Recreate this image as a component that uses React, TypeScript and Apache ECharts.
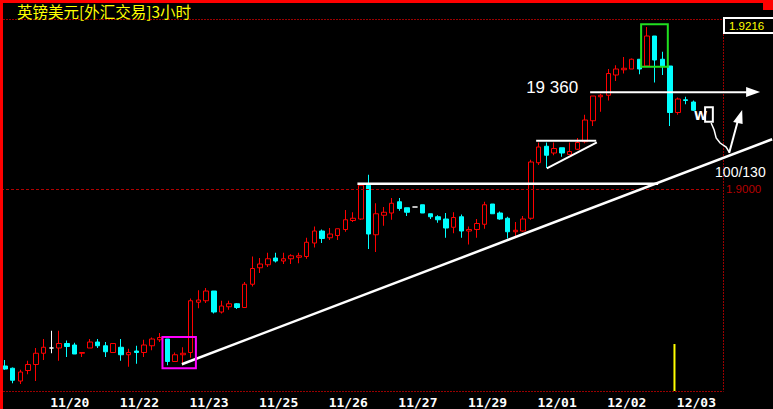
import React, { useEffect, useRef } from "react";
import * as echarts from "echarts";

const titleText = "英镑美元[外汇交易]3小时";
const slotCount = 93;
const tickIndex = [8, 17, 26, 35, 44, 53, 62, 71, 80, 89];
const tickLabels = ["11/20", "11/22", "11/23", "11/25", "11/26", "11/27", "11/29", "12/01", "12/02", "12/03"];

const opens = [
  1.8764, 1.8761, 1.8744, 1.8758, 1.8766, 1.8781, 1.8788, 1.8788, 1.8794, 1.8792,
  1.8781, 1.8788, 1.8796, 1.8791, 1.8782, 1.8789, 1.8779, 1.8784, 1.8782, 1.8791,
  1.8799, 1.88, 1.877, 1.8779, 1.8782, 1.8849, 1.8851, 1.8864, 1.8836, 1.8843,
  1.8847, 1.8842, 1.8873, 1.8895, 1.8899, 1.8908, 1.8904, 1.8907, 1.8909, 1.891,
  1.8928, 1.8944, 1.8935, 1.8938, 1.8946, 1.8958, 1.896, 1.9005, 1.8939, 1.8965,
  1.8968, 1.8983, 1.8975, 1.8976, 1.8979, 1.8967, 1.8963, 1.896, 1.8949, 1.8963,
  1.8944, 1.8946, 1.8953, 1.898, 1.8968, 1.8961, 1.8943, 1.8944, 1.8961, 1.9035,
  1.9057, 1.9048, 1.9055, 1.9046, 1.9053, 1.9063, 1.9091, 1.9123, 1.9125, 1.9152,
  1.9159, 1.916, 1.9173, 1.9164, 1.9204, 1.9173, 1.9164, 1.9102, 1.9119, 1.9116,
];
const highs = [
  1.8772, 1.8762, 1.8759, 1.8771, 1.8788, 1.88, 1.8811, 1.8811, 1.8798, 1.8795,
  1.8782, 1.88, 1.88, 1.8796, 1.8794, 1.88, 1.8787, 1.8791, 1.8799, 1.8802,
  1.8808, 1.88, 1.8782, 1.8789, 1.8854, 1.8865, 1.8868, 1.8864, 1.8851, 1.8851,
  1.8848, 1.8876, 1.891, 1.8908, 1.8915, 1.8915, 1.8915, 1.8913, 1.8915, 1.8935,
  1.895, 1.8946, 1.8948, 1.8947, 1.8972, 1.8969, 1.9005, 1.9019, 1.8981, 1.8976,
  1.8988, 1.8988, 1.8975, 1.8976, 1.8979, 1.8967, 1.8965, 1.8968, 1.8969, 1.8966,
  1.895, 1.896, 1.8983, 1.898, 1.897, 1.8963, 1.8956, 1.8964, 1.9039, 1.9062,
  1.9062, 1.9062, 1.9055, 1.9062, 1.9068, 1.9099, 1.9124, 1.9127, 1.916, 1.9165,
  1.9176, 1.9174, 1.9173, 1.9216, 1.9204, 1.9183, 1.9164, 1.9122, 1.9123, 1.9118,
];
const lows = [
  1.8759, 1.8741, 1.874, 1.8753, 1.8744, 1.8772, 1.8781, 1.8771, 1.8776, 1.878,
  1.8776, 1.8788, 1.8788, 1.8776, 1.8782, 1.8771, 1.8763, 1.8767, 1.8776, 1.8785,
  1.8796, 1.8765, 1.877, 1.8765, 1.8775, 1.8841, 1.8848, 1.8834, 1.8834, 1.8839,
  1.884, 1.8842, 1.887, 1.8888, 1.8896, 1.8902, 1.89, 1.89, 1.8901, 1.8907,
  1.8922, 1.8928, 1.8932, 1.8932, 1.8943, 1.8956, 1.8959, 1.892, 1.8916, 1.8951,
  1.8959, 1.8971, 1.8964, 1.8976, 1.8968, 1.896, 1.8955, 1.8935, 1.8941, 1.8935,
  1.8926, 1.8935, 1.8947, 1.8967, 1.8959, 1.8934, 1.8937, 1.8943, 1.8959, 1.9032,
  1.9028, 1.9045, 1.9043, 1.9046, 1.9052, 1.9061, 1.9084, 1.9103, 1.9118, 1.9144,
  1.9154, 1.916, 1.9153, 1.9164, 1.9142, 1.9152, 1.9084, 1.9099, 1.9113, 1.9104,
];
const closes = [
  1.876, 1.8745, 1.8756, 1.8766, 1.8781, 1.8789, 1.8788, 1.8794, 1.879, 1.878,
  1.8782, 1.8796, 1.8791, 1.8783, 1.8794, 1.8779, 1.8782, 1.8782, 1.8792, 1.88,
  1.8802, 1.877, 1.8779, 1.8781, 1.8851, 1.8852, 1.8864, 1.8836, 1.8844, 1.8847,
  1.8842, 1.8873, 1.8894, 1.89, 1.8907, 1.8904, 1.8907, 1.8911, 1.8911, 1.8929,
  1.8944, 1.8934, 1.894, 1.8947, 1.8959, 1.8961, 1.9005, 1.894, 1.8967, 1.8969,
  1.8981, 1.8974, 1.8969, 1.8976, 1.8968, 1.8963, 1.8959, 1.8948, 1.8962, 1.8944,
  1.8946, 1.8954, 1.8979, 1.8967, 1.896, 1.8943, 1.8945, 1.896, 1.9036, 1.9056,
  1.9045, 1.9054, 1.9048, 1.905, 1.9062, 1.9092, 1.9124, 1.9125, 1.9154, 1.916,
  1.9161, 1.9173, 1.916, 1.9204, 1.9172, 1.9164, 1.9102, 1.912, 1.9118, 1.9105,
];

const yMin = 1.873067;
const yMax = 1.922667;
const refPrice = 1.9;
const lastHighPrice = 1.9216;

// hand-drawn annotations in data space: [candle index, price]
const trendLine = [[22.88, 1.87663], [99.17, 1.90663]];
const resistanceLine = [[45.57, 1.90071], [84.44, 1.90071]];
const flagTop = [[68.67, 1.90643], [76.43, 1.90643]];
const flagBottom = [[70.05, 1.90276], [76.52, 1.90623]];
const arrowLine = [[75.65, 1.91289], [95.94, 1.91289]];
const arrowHead = [[95.81, 1.9136], [97.62, 1.91293], [95.81, 1.91227]];
const magentaBox = [[20.37, 1.88027], [24.69, 1.87609]];
const greenBox = [[82.24, 1.92196], [85.69, 1.91631]];
const noteTarget = { text: "19 360", at: [67.38, 1.91347] };
const noteRatio = { text: "100/130", at: [91.8, 1.90227] };
const scribbleW = { text: "W", at: [89.93, 1.90967] };
const scribbleBox = [[90.51, 1.91089], [91.51, 1.90897]];
const scribblePath = [
  [91.29, 1.9088], [91.68, 1.90787], [91.94, 1.9068], [92.45, 1.90613], [93.23, 1.9056], [93.62, 1.90493],
];
const upArrowShaft = [[93.62, 1.9048], [94.91, 1.90973]];
const upArrowHead = [[95.3, 1.91053], [94.13, 1.90893], [95.36, 1.90867]];
const cursorLine = [[86.55, 1.87933], [86.55, 1.873067]];

export default function App() {
  const ref = useRef<HTMLDivElement>(null);
  useEffect(() => {
    document.body.style.margin = "0";
    document.body.style.background = "#000";
    const chart = echarts.init(ref.current as HTMLDivElement, null, { renderer: "svg" });
    const categories = Array.from({ length: slotCount }, (_, i) => "k" + i);
    const data = opens.map((o, i) => [o, closes[i], lows[i], highs[i]]);
    const labelOf = (idx: number) => {
      const k = tickIndex.indexOf(idx);
      return k >= 0 ? tickLabels[k] : "";
    };
    chart.setOption({
      animation: false,
      backgroundColor: "#000000",
      grid: { left: 1, right: 52.5, top: 19, bottom: 18, containLabel: false, outerBoundsMode: "none" },
      xAxis: {
        type: "category",
        data: categories,
        boundaryGap: true,
        axisLine: { show: false },
        axisTick: { show: false },
        splitLine: { show: false },
        axisLabel: {
          interval: (idx: number) => tickIndex.indexOf(idx) >= 0,
          formatter: (_v: string, idx: number) => labelOf(idx),
          color: "#ffffff",
          fontFamily: "DejaVu Sans Mono",
          fontWeight: "bold",
          fontSize: 13,
          margin: 5,
          padding: [0, 0, 0, 6],
          hideOverlap: false,
        },
      },
      yAxis: {
        type: "value",
        position: "right",
        min: yMin,
        max: yMax,
        scale: true,
        axisLine: { show: false },
        axisTick: { show: false },
        axisLabel: { show: false },
        splitLine: { show: false },
      },
      series: [
        {
          type: "candlestick",
          data,
          barWidth: 5,
          itemStyle: {
            color: "#000000",
            color0: "#00ffff",
            borderColor: "#ff0000",
            borderColor0: "#00ffff",
            borderColorDoji: "#ffffff",
            borderWidth: 1,
          },
          markLine: {
            silent: true,
            symbol: "none",
            label: { show: false },
            lineStyle: { color: "#b00000", type: [3, 2], width: 1 },
            data: [{ yAxis: refPrice }],
          },
        },
      ],
    });

    const a = chart.convertToPixel({ gridIndex: 0 }, [0, 1.9]) as number[];
    const b = chart.convertToPixel({ gridIndex: 0 }, [10, 1.92]) as number[];
    const X = (i: number) => a[0] + ((b[0] - a[0]) * i) / 10;
    const Y = (v: number) => a[1] + ((b[1] - a[1]) * (v - 1.9)) / 0.02;
    const P = (p: number[]) => [X(p[0]), Y(p[1])];

    const seg = (pts: number[][], stroke: string, lw: number) => {
      const [p1, p2] = [P(pts[0]), P(pts[1])];
      return {
        type: "line",
        z: 100,
        shape: { x1: p1[0], y1: p1[1], x2: p2[0], y2: p2[1] },
        style: { stroke, lineWidth: lw },
      };
    };
    const box = (pts: number[][], stroke: string, lw: number) => {
      const [p1, p2] = [P(pts[0]), P(pts[1])];
      return {
        type: "rect",
        z: 100,
        shape: { x: p1[0], y: p1[1], width: p2[0] - p1[0], height: p2[1] - p1[1] },
        style: { fill: "none", stroke, lineWidth: lw },
      };
    };
    const txt = (t: { text: string; at: number[] }, font: string, fill: string, align = "left") => {
      const p = P(t.at);
      return {
        type: "text",
        z: 100,
        x: p[0],
        y: p[1],
        style: {
          text: t.text,
          fill,
          font,
          textAlign: align,
          textVerticalAlign: "middle",
        },
      };
    };

    const hiY = Y(lastHighPrice);
    const refY = Y(refPrice);
    const frame = "#9a0000";

    const elements: any[] = [
      // frame chrome
      { type: "line", z: 90, shape: { x1: 3, y1: 19.5, x2: 723.5, y2: 19.5 }, style: { stroke: frame, lineWidth: 1, lineDash: [2, 1] } },
      { type: "line", z: 90, shape: { x1: 723.5, y1: 19, x2: 723.5, y2: 391.5 }, style: { stroke: frame, lineWidth: 1, lineDash: [2, 1] } },
      { type: "line", z: 90, shape: { x1: 3, y1: 391.5, x2: 723.5, y2: 391.5 }, style: { stroke: frame, lineWidth: 1, lineDash: [2, 1] } },
      { type: "rect", z: 110, shape: { x: 0, y: 0, width: 3, height: 409 }, style: { fill: "#ff0000" } },
      { type: "rect", z: 110, shape: { x: 0, y: 0, width: 773, height: 3 }, style: { fill: "#ff0000" } },
      { type: "rect", z: 110, shape: { x: 763, y: 0, width: 10, height: 10 }, style: { fill: "#ff0000" } },
      {
        type: "text",
        z: 110,
        x: 17,
        y: 10.5,
        style: { text: titleText, fill: "#ffff00", font: '15.5px "Noto Sans CJK SC"', textAlign: "left", textVerticalAlign: "middle" },
      },
      // price labels on the right
      { type: "rect", z: 100, shape: { x: 724, y: hiY - 9, width: 55, height: 15 }, style: { fill: "#000", stroke: "#ffffff", lineWidth: 2 } },
      {
        type: "text",
        z: 101,
        x: 729,
        y: hiY - 1.5,
        style: { text: lastHighPrice.toFixed(4), fill: "#ffff00", font: '11.5px "Liberation Sans"', textAlign: "left", textVerticalAlign: "middle" },
      },
      {
        type: "text",
        z: 101,
        x: 726,
        y: refY,
        style: { text: refPrice.toFixed(4), fill: "#b40000", font: '11.5px "Liberation Sans"', textAlign: "left", textVerticalAlign: "middle" },
      },
      // annotations
      seg(trendLine, "#ffffff", 2.5),
      seg(resistanceLine, "#ffffff", 2.5),
      seg(flagTop, "#ffffff", 2),
      seg(flagBottom, "#ffffff", 2),
      seg(arrowLine, "#ffffff", 2),
      { type: "polygon", z: 100, shape: { points: arrowHead.map(P) }, style: { fill: "#ffffff" } },
      box(magentaBox, "#ff00ff", 2),
      box(greenBox, "#20e020", 2),
      txt(noteTarget, '17px "Liberation Sans"', "#ffffff"),
      txt(noteRatio, '14px "Liberation Sans"', "#ffffff"),
      txt(scribbleW, 'bold 12px "DejaVu Sans"', "#ffffff", "center"),
      box(scribbleBox, "#ffffff", 2),
      { type: "polyline", z: 100, shape: { points: scribblePath.map(P) }, style: { stroke: "#ffffff", lineWidth: 1.5, fill: "none" } },
      seg(upArrowShaft, "#ffffff", 2),
      { type: "polygon", z: 100, shape: { points: upArrowHead.map(P) }, style: { fill: "#ffffff" } },
      seg(cursorLine, "#ffff00", 2),
    ];
    chart.setOption({ graphic: { elements } });
    return () => chart.dispose();
  }, []);
  return <div ref={ref} style={{ width: 773, height: 409, background: "#000" }} />;
}
